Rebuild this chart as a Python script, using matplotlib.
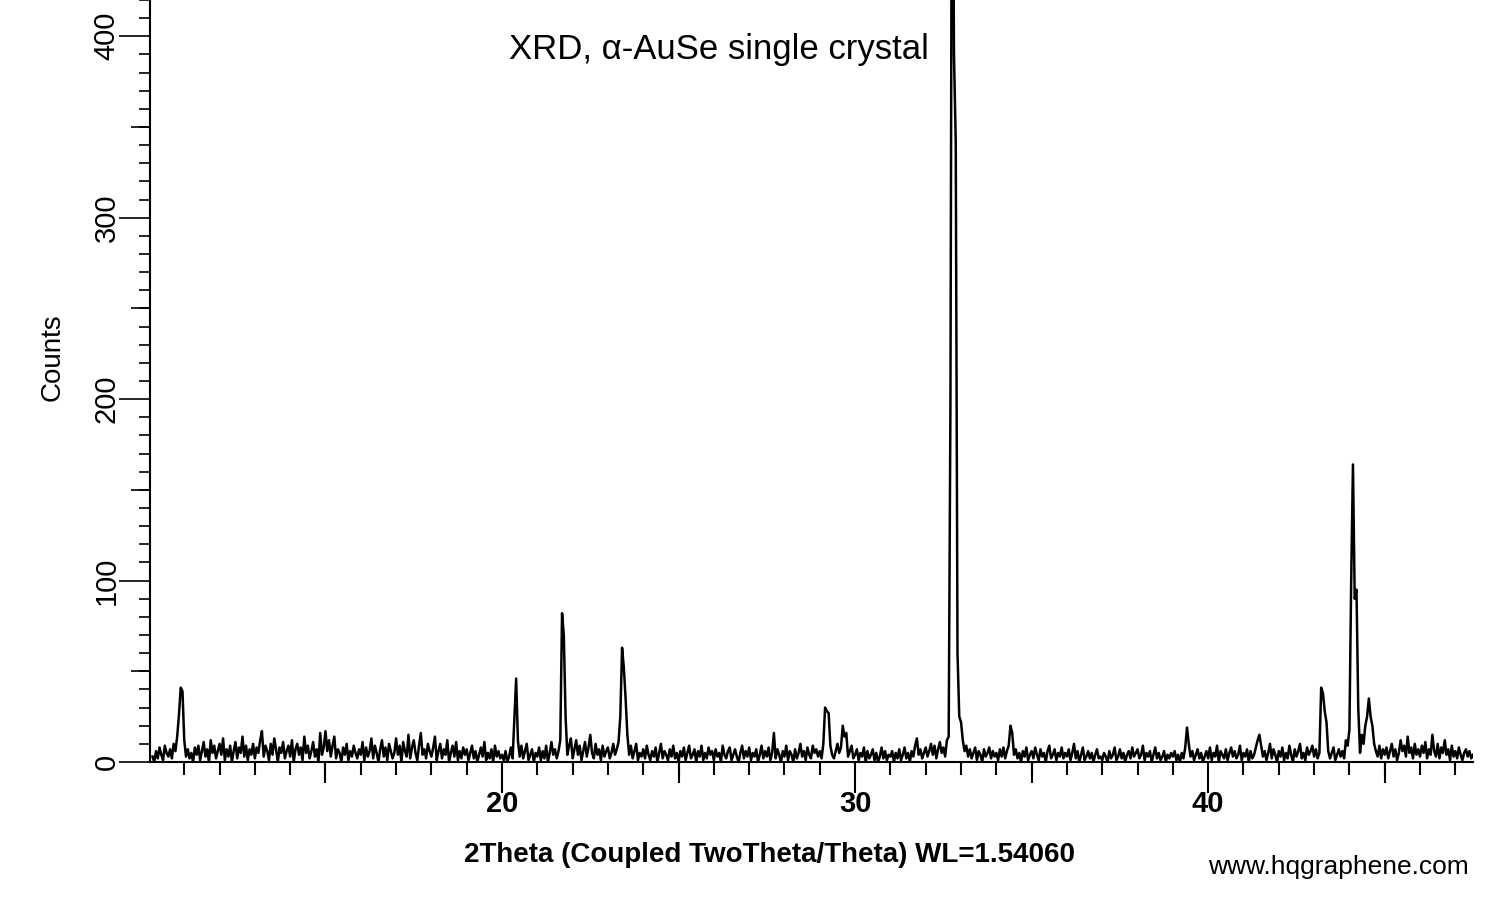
import numpy as np
import matplotlib.pyplot as plt
from matplotlib.ticker import MultipleLocator

# 2theta grid: 10.10 .. 47.50, step 0.05
start_2theta = 10.10
step_2theta = 0.05

# counts, one row per degree
counts_10 = [3, 0, 6, 2, 8, 4, 1, 9, 5, 3, 7, 2, 10, 6, 14, 26, 41, 39]
counts_11 = [12, 3, 7, 2, 5, 0, 8, 4, 9, 1, 6, 11, 3, 7, 0, 12, 5, 9, 2, 6]
counts_12 = [10, 4, 13, 1, 7, 3, 9, 0, 6, 11, 2, 8, 5, 14, 3, 9, 1, 7, 4, 10]
counts_13 = [2, 8, 5, 12, 17, 3, 9, 6, 1, 10, 4, 13, 7, 0, 8, 5, 11, 2, 6, 9]
counts_14 = [3, 12, 0, 7, 10, 4, 8, 1, 14, 5, 9, 2, 6, 11, 3, 7, 0, 16, 4, 8]
counts_15 = [17, 6, 12, 3, 9, 14, 2, 7, 5, 0, 8, 4, 10, 1, 6, 3, 9, 5, 2, 7]
counts_16 = [4, 11, 1, 8, 3, 6, 13, 2, 9, 5, 0, 7, 12, 3, 8, 1, 10, 6, 2, 5]
counts_17 = [13, 4, 9, 0, 11, 6, 3, 15, 2, 8, 12, 5, 1, 9, 16, 4, 7, 2, 10, 6]
counts_18 = [3, 8, 14, 1, 6, 10, 2, 7, 4, 12, 0, 5, 9, 3, 11, 1, 6, 2, 8, 4]
counts_19 = [7, 1, 5, 9, 2, 6, 0, 4, 8, 3, 11, 1, 5, 2, 7, 0, 9, 3, 6, 2]
counts_20 = [4, 1, 6, 0, 3, 8, 2, 24, 46, 12, 3, 9, 2, 6, 10, 1, 4, 7, 0, 5]
counts_21 = [3, 8, 1, 6, 2, 9, 0, 5, 11, 4, 7, 2, 6, 12, 82, 70, 25, 4, 9, 13]
counts_22 = [2, 7, 12, 4, 9, 1, 6, 11, 3, 8, 15, 5, 2, 10, 4, 7, 1, 9, 3, 6]
counts_23 = [8, 2, 5, 10, 4, 7, 11, 25, 63, 52, 35, 15, 4, 9, 2, 6, 10, 1, 5, 3]
counts_24 = [7, 2, 9, 4, 1, 6, 3, 8, 0, 5, 10, 2, 6, 4, 1, 7, 3, 9, 2, 5]
counts_25 = [0, 6, 3, 8, 1, 5, 9, 2, 4, 7, 0, 6, 3, 9, 1, 5, 2, 8, 4, 6]
counts_26 = [1, 7, 3, 5, 0, 9, 4, 2, 6, 8, 1, 4, 7, 3, 0, 5, 9, 2, 6, 3]
counts_27 = [8, 1, 5, 3, 7, 0, 4, 9, 2, 6, 3, 8, 1, 5, 16, 2, 7, 4, 0, 6]
counts_28 = [3, 9, 1, 6, 4, 0, 7, 2, 5, 10, 3, 6, 1, 8, 4, 2, 9, 5, 7, 3]
counts_29 = [6, 2, 10, 30, 28, 27, 9, 4, 2, 6, 10, 5, 8, 20, 14, 16, 3, 6, 9, 2]
counts_30 = [4, 7, 1, 5, 3, 8, 0, 6, 2, 4, 7, 1, 5, 0, 3, 8, 2, 6, 1, 4]
counts_31 = [3, 6, 0, 5, 2, 7, 1, 4, 8, 2, 5, 0, 6, 3, 9, 13, 4, 7, 2, 5]
counts_32 = [8, 3, 6, 10, 4, 9, 2, 7, 11, 5, 8, 3, 12, 14, 197, 600, 390, 342, 60, 25]
counts_33 = [22, 12, 6, 9, 3, 7, 2, 5, 8, 1, 6, 4, 0, 7, 3, 5, 8, 2, 6, 3]
counts_34 = [5, 1, 7, 3, 8, 2, 6, 9, 20, 16, 4, 7, 2, 5, 0, 6, 3, 8, 1, 4]
counts_35 = [6, 2, 8, 4, 1, 7, 3, 5, 0, 6, 9, 2, 4, 7, 1, 5, 3, 8, 2, 5]
counts_36 = [3, 7, 1, 5, 10, 2, 6, 0, 4, 8, 1, 3, 6, 2, 5, 0, 4, 7, 2, 3]
counts_37 = [1, 5, 3, 0, 6, 2, 4, 8, 1, 3, 7, 2, 5, 0, 4, 6, 2, 8, 3, 5]
counts_38 = [7, 2, 4, 9, 1, 5, 3, 6, 0, 4, 8, 2, 5, 1, 3, 6, 0, 4, 2, 5]
counts_39 = [3, 6, 1, 4, 0, 5, 2, 8, 19, 10, 3, 6, 1, 4, 7, 2, 5, 0, 3, 6]
counts_40 = [2, 8, 1, 5, 3, 9, 0, 6, 4, 2, 7, 1, 5, 8, 3, 6, 2, 4, 9, 1]
counts_41 = [5, 3, 7, 0, 6, 2, 4, 8, 12, 15, 9, 3, 6, 1, 5, 10, 2, 7, 4, 0]
counts_42 = [6, 3, 8, 1, 5, 2, 9, 4, 0, 7, 3, 6, 10, 2, 5, 1, 8, 4, 6, 9]
counts_43 = [3, 7, 2, 5, 41, 38, 28, 22, 6, 2, 5, 8, 1, 4, 7, 3, 6, 2, 12, 9]
counts_44 = [18, 100, 164, 90, 95, 30, 5, 15, 10, 20, 25, 35, 25, 20, 10, 6, 3, 9, 2, 7]
counts_45 = [4, 8, 2, 6, 10, 3, 7, 1, 5, 12, 6, 9, 3, 14, 5, 8, 2, 10, 4, 7]
counts_46 = [3, 9, 5, 11, 2, 7, 4, 15, 6, 3, 10, 2, 8, 5, 12, 4, 7, 1, 9, 3]
counts_47 = [6, 2, 8, 4, 1, 5, 7, 3, 6, 2, 4]

rows = [counts_10, counts_11, counts_12, counts_13, counts_14, counts_15,
        counts_16, counts_17, counts_18, counts_19, counts_20, counts_21,
        counts_22, counts_23, counts_24, counts_25, counts_26, counts_27,
        counts_28, counts_29, counts_30, counts_31, counts_32, counts_33,
        counts_34, counts_35, counts_36, counts_37, counts_38, counts_39,
        counts_40, counts_41, counts_42, counts_43, counts_44, counts_45,
        counts_46, counts_47]
counts = np.concatenate([np.array(r, dtype=float) for r in rows])
two_theta = start_2theta + step_2theta * np.arange(len(counts))

title = 'XRD, \u03b1-AuSe single crystal'
xlabel = '2Theta (Coupled TwoTheta/Theta) WL=1.54060'
ylabel = 'Counts'
credit = 'www.hqgraphene.com'

plt.rcParams['font.family'] = ['Liberation Sans', 'DejaVu Sans']

fig = plt.figure(figsize=(15, 9), dpi=100)
ax = fig.add_axes([0.1, 1 - 762 / 900, 0.882, 762 / 900])

ax.plot(two_theta, counts, color='black', lw=1.8)

ax.set_xlim(10.03, 47.5)
ax.set_ylim(0, 420)

for s in ['top', 'right']:
    ax.spines[s].set_visible(False)
for s in ['left', 'bottom']:
    ax.spines[s].set_linewidth(1.5)

ax.xaxis.set_major_locator(MultipleLocator(10))
ax.xaxis.set_minor_locator(MultipleLocator(1))
ax.yaxis.set_major_locator(MultipleLocator(100))
ax.yaxis.set_minor_locator(MultipleLocator(10))
ax.tick_params(axis='x', which='major', length=22, width=1.5, pad=-2)
ax.tick_params(axis='x', which='minor', length=9, width=1.5)
ax.tick_params(axis='y', which='major', length=22, width=1.2, pad=-1)
ax.tick_params(axis='y', which='minor', length=8, width=1.2)

for lab in ax.get_xticklabels():
    lab.set_fontweight('bold')
    lab.set_fontsize(21)
for lab in ax.get_yticklabels():
    lab.set_fontsize(21)
    lab.set_rotation(90)
    lab.set_va('center')

# medium ticks at the halves
sec_x = ax.secondary_xaxis('bottom')
sec_x.set_xticks([15, 25, 35, 45])
sec_x.tick_params(length=15, width=1.5, labelbottom=False)
sec_x.spines['bottom'].set_visible(False)
sec_y = ax.secondary_yaxis('left')
sec_y.set_yticks([50, 150, 250, 350])
sec_y.tick_params(length=14, width=1.2, labelleft=False)
sec_y.spines['left'].set_visible(False)

ax.set_xlabel(xlabel, fontsize=20, fontweight='bold')
ax.xaxis.set_label_coords((769 - 150) / 1323, -80 / 762)
ax.set_ylabel(ylabel, fontsize=20)
ax.yaxis.set_label_coords(-84 / 1323, (762 - 357) / 762)

fig.text(719 / 1500, 1 - 50 / 900, title, fontsize=25, ha='center', va='center')
fig.text(1338 / 1500, 1 - 867 / 900, credit, fontsize=19,
         ha='center', va='center')

fig.savefig('out.png', dpi=100)
